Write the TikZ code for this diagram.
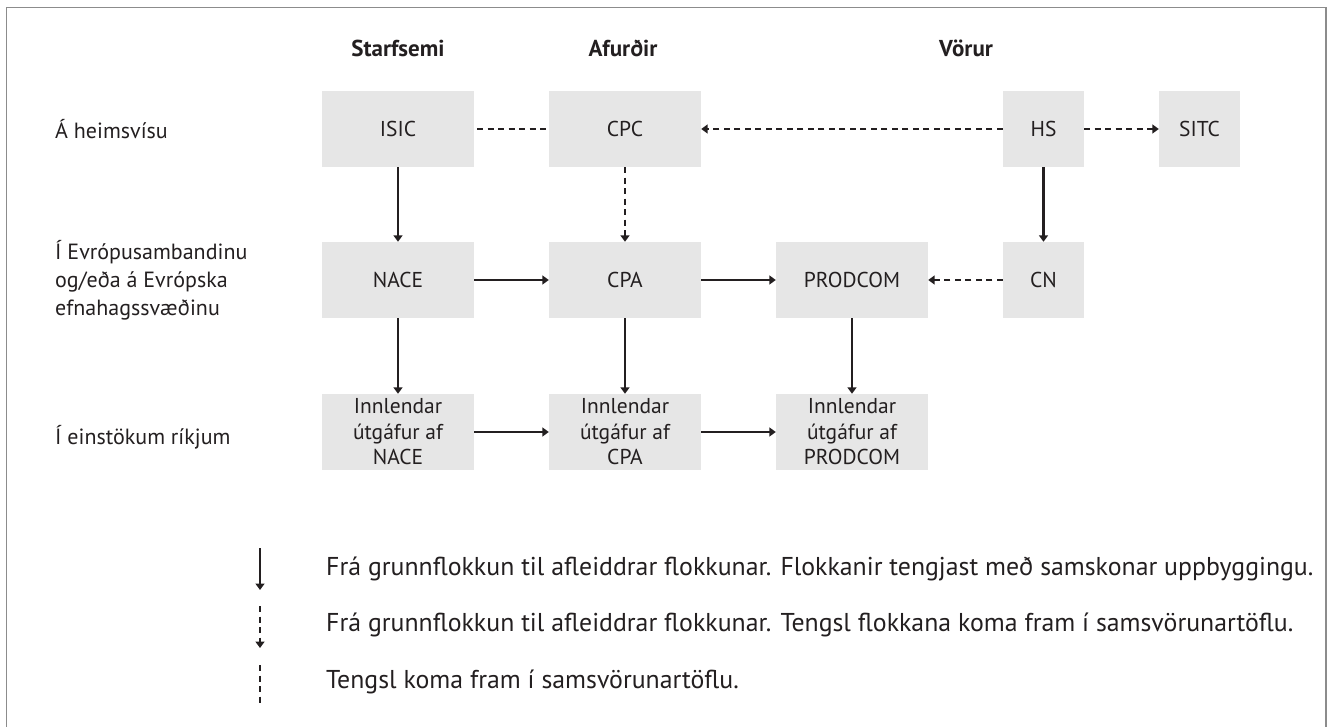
\documentclass[tikz,border=0pt]{standalone}
\usepackage{fontspec}
\setmainfont{PT Sans}
\usetikzlibrary{arrows.meta}
\definecolor{boxgray}{HTML}{E6E6E6}
\definecolor{ink}{HTML}{231F20}
\definecolor{framegray}{HTML}{8C8C8C}
\begin{document}
\begin{tikzpicture}[x=1pt,y=-1pt,
  txt/.style={font=\fontsize{22}{28}\selectfont, text=ink},
  cbox/.style={font=\fontsize{21.5}{25.5}\selectfont, text=ink, fill=boxgray, minimum width=152pt, minimum height=76pt, inner sep=0pt, align=center},
  sbox/.style={cbox, minimum width=81pt},
  lab/.style={txt, anchor=west, align=left, inner sep=0pt},
  leg/.style={font=\fontsize{25.8}{30}\selectfont, text=ink, anchor=west, inner sep=0pt},
  head/.style={font=\fontsize{23}{28}\selectfont\bfseries, text=ink, inner sep=0pt},
  conn/.style={draw=ink, line width=2.2pt, -{Triangle[length=6.5pt,width=9pt]}},
  dconn/.style={conn, dash pattern=on 6pt off 4.5pt},
  dline/.style={draw=ink, line width=2.2pt, dash pattern=on 6pt off 4.5pt}]
\useasboundingbox (0,0) rectangle (1330,727);
\draw[framegray, line width=1.5pt] (6.5,740) -- (6.5,7.5) -- (1326,7.5) -- (1326,740);

% headers
\node[head] (h1) at (398,48) {Starfsemi};
\node[head] (h2) at (623,48) {Afurðir};
\node[head] (h3) at (966,48) {Vörur};

% row labels
\node[lab] (r1) at (55,129) {Á heimsvísu};
\node[lab] (r2) at (55,280) {Í Evrópusambandinu\\og/eða á Evrópska\\efnahagssvæðinu};
\node[lab] (r3) at (55,437) {Í einstökum ríkjum};

% row 1
\node[cbox] (isic) at (398,129) {ISIC};
\node[cbox] (cpc) at (625,129) {CPC};
\node[sbox] (hs) at (1043.5,129) {HS};
\node[sbox] (sitc) at (1199.5,129) {SITC};

% row 2
\node[cbox] (nace) at (398,280) {NACE};
\node[cbox] (cpa) at (625,280) {CPA};
\node[cbox] (prodcom) at (852,280) {PRODCOM};
\node[sbox] (cn) at (1043.5,280) {CN};

% row 3
\node[cbox] (inace) at (398,432) {Innlendar\\útgáfur af\\NACE};
\node[cbox] (icpa) at (625,432) {Innlendar\\útgáfur af\\CPA};
\node[cbox] (iprod) at (852,432) {Innlendar\\útgáfur af\\PRODCOM};

% connectors
\draw[dline] ([xshift=3pt]isic.east) -- ([xshift=-3pt]cpc.west);
\draw[dconn] (hs.west) -- (cpc.east);
\draw[dconn] (hs.east) -- (sitc.west);
\draw[conn] (isic.south) -- (nace.north);
\draw[dconn] (cpc.south) -- (cpa.north);
\draw[conn] (hs.south) -- (cn.north);
\draw[conn] (nace.east) -- (cpa.west);
\draw[conn] (cpa.east) -- (prodcom.west);
\draw[dconn] (cn.west) -- (prodcom.east);
\draw[conn] (nace.south) -- (inace.north);
\draw[conn] (cpa.south) -- (icpa.north);
\draw[conn] (prodcom.south) -- (iprod.north);
\draw[conn] (inace.east) -- (icpa.west);
\draw[conn] (icpa.east) -- (iprod.west);

% legend
\coordinate (l1a) at (260,548);
\coordinate (l1b) at (260,590);
\coordinate (l2a) at (260,606);
\coordinate (l2b) at (260,648);
\coordinate (l3a) at (260,665);
\coordinate (l3b) at (260,705);
\draw[conn] (l1a) -- (l1b);
\draw[dconn] (l2a) -- (l2b);
\draw[dline] (l3a) -- (l3b);
\node[leg] (t1) at (326,569) {Frá grunnflokkun til afleiddrar flokkunar. Flokkanir tengjast með samskonar uppbyggingu.};
\node[leg] (t2) at (326,625) {Frá grunnflokkun til afleiddrar flokkunar. Tengsl flokkana koma fram í samsvörunartöflu.};
\node[leg] (t3) at (326,682) {Tengsl koma fram í samsvörunartöflu.};
\end{tikzpicture}
\end{document}
